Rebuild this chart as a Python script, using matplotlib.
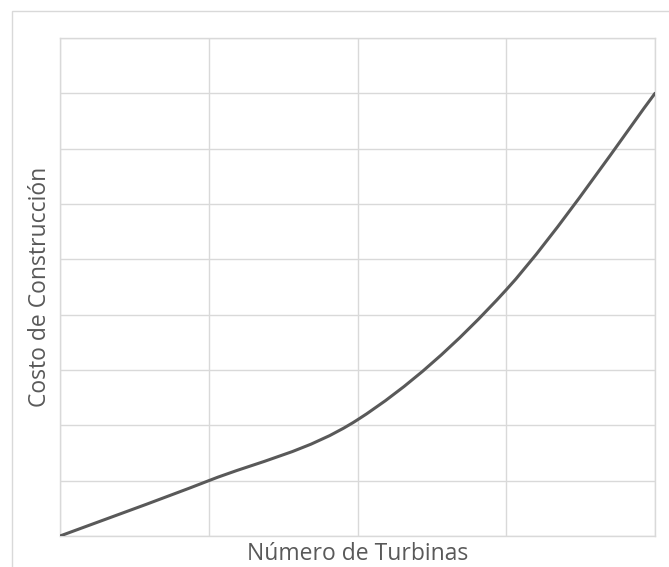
import matplotlib
matplotlib.use("Agg")
import matplotlib.pyplot as plt
from matplotlib.path import Path
from matplotlib.patches import PathPatch, Rectangle

# values (grid units, no tick labels in the original)
turbinas = [0, 1, 2, 3, 4]
costo = [0.0, 1.0, 2.1, 4.45, 8.0]

x_label = "Número de Turbinas"
y_label = "Costo de Construcción"

GRID = "#d9d9d9"
TEXT = "#595959"
LINE = "#595959"


def smooth_path(xs, ys):
    # Excel style smoothed line: cubic bezier through every point
    pts = list(zip(xs, ys))
    n = len(pts)
    verts = [pts[0]]
    codes = [Path.MOVETO]
    for i in range(n - 1):
        p0 = pts[max(i - 1, 0)]
        p1 = pts[i]
        p2 = pts[i + 1]
        p3 = pts[min(i + 2, n - 1)]
        c1 = (p1[0] + (p2[0] - p0[0]) / 6, p1[1] + (p2[1] - p0[1]) / 6)
        c2 = (p2[0] - (p3[0] - p1[0]) / 6, p2[1] - (p3[1] - p1[1]) / 6)
        verts += [c1, c2, p2]
        codes += [Path.CURVE4] * 3
    return Path(verts, codes)


plt.rcParams["font.family"] = ["Open Sans", "DejaVu Sans"]

W, H = 669, 567
fig = plt.figure(figsize=(W / 100, H / 100), dpi=100)

# outer chart frame (cut off at the right and bottom in the original)
fig.patches.append(Rectangle((12 / W, -0.1), 1.2, 1 - 11 / H + 0.1,
                             transform=fig.transFigure, fill=False,
                             edgecolor=GRID, linewidth=1.0))

ax = fig.add_axes([60 / W, (H - 536) / H, 595 / W, 498 / H])
ax.set_xlim(0, 4)
ax.set_ylim(0, 9)
ax.set_xticks(range(0, 5))
ax.set_yticks(range(0, 10))
ax.tick_params(length=0, labelbottom=False, labelleft=False)
ax.grid(True, color=GRID, linewidth=1.0)
ax.set_axisbelow(True)
for s in ax.spines.values():
    s.set_color(GRID)
    s.set_linewidth(1.0)

ax.add_patch(PathPatch(smooth_path(turbinas, costo), facecolor="none",
                       edgecolor=LINE, linewidth=2.2, capstyle="round",
                       zorder=3))

ax.set_xlabel(x_label, fontsize=16.5, color=TEXT, va="center")
ax.xaxis.set_label_coords(0.5, (536 - 554) / 498)
ax.set_ylabel(y_label, fontsize=16.5, color=TEXT, va="center")
ax.yaxis.set_label_coords((40 - 60) / 595, 0.5)

fig.savefig("out.png", dpi=100)
